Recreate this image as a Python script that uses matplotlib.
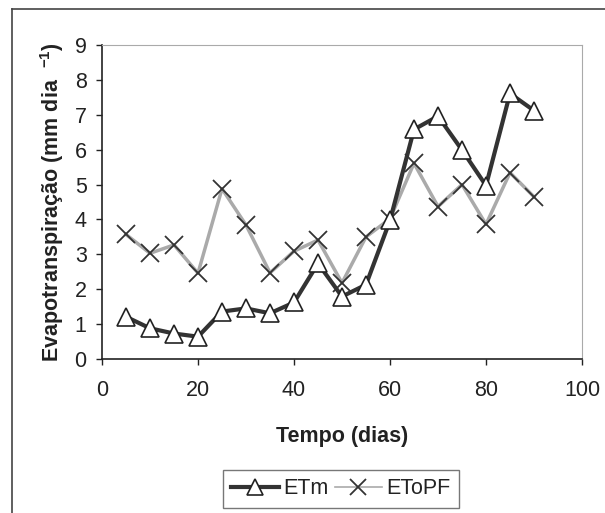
import matplotlib
matplotlib.use("Agg")
import matplotlib.pyplot as plt
from matplotlib.lines import Line2D

plt.rcParams['font.family'] = ['Liberation Sans', 'DejaVu Sans']
plt.rcParams['mathtext.default'] = 'regular'

dias = [5, 10, 15, 20, 25, 30, 35, 40, 45, 50, 55, 60, 65, 70, 75, 80, 85, 90]
etm = [1.21, 0.88, 0.73, 0.64, 1.36, 1.45, 1.31, 1.62, 2.74, 1.79, 2.13, 3.97, 6.58, 6.96, 5.99, 4.97, 7.61, 7.12]
etopf = [3.57, 3.03, 3.27, 2.46, 4.88, 3.84, 2.47, 3.09, 3.41, 2.18, 3.5, 4.02, 5.61, 4.37, 5.0, 3.86, 5.34, 4.65]
xticks = [0, 20, 40, 60, 80, 100]
yticks = list(range(0, 10))

fig = plt.figure(figsize=(6.05, 5.13), dpi=100)
ax = fig.add_axes([102/605, 1-359/513, 480/605, 314/513])

ax.plot(dias, etm, color='#333333', lw=3, marker='^', ms=13, mfc='white',
        mec='#222222', mew=1.2, label='ETm', zorder=3)
ax.plot(dias, etopf, color='#aaaaaa', lw=2.5, marker='x', ms=13,
        mec='#333333', mew=1.3, label='EToPF', zorder=2)

ax.set_xlim(0, 100)
ax.set_ylim(0, 9)
ax.set_xticks(xticks)
ax.set_yticks(yticks)
ax.tick_params(direction='out', length=4, width=1, labelsize=15.5, colors='#222222')
ax.tick_params(axis='x', pad=11)
ax.tick_params(axis='y', pad=7)
for s in ['top', 'right']:
    ax.spines[s].set_color('#aaaaaa')
    ax.spines[s].set_linewidth(0.8)
for s in ['left', 'bottom']:
    ax.spines[s].set_color('#222222')
    ax.spines[s].set_linewidth(1.2)

ax.set_xlabel('Tempo (dias)', fontsize=15.5, fontweight='bold', labelpad=18, color='#222222')
ax.set_ylabel('Evapotranspiração (mm dia  $^{-1}$)', fontsize=15.5, fontweight='bold',
              labelpad=6, color='#222222')

leg = fig.legend(loc='center', bbox_to_anchor=(341/605, 1-489/513), ncol=2,
                 fontsize=15.5, frameon=True, fancybox=False, edgecolor='#555555',
                 handlelength=2.2, columnspacing=0.3, handletextpad=0.2,
                 borderpad=0.4, markerscale=0.85)
leg.get_frame().set_linewidth(1.0)
for t in leg.get_texts():
    t.set_color('#222222')
leg.get_lines()[1].set_linewidth(1.2) if hasattr(leg, 'get_lines') else None

# outer chart frame
fig.add_artist(Line2D([12/605, 12/605], [0, 1-9/513], color='#444444', lw=1.2, transform=fig.transFigure))
fig.add_artist(Line2D([12/605, 1], [1-9/513, 1-9/513], color='#444444', lw=1.2, transform=fig.transFigure))

fig.savefig('out.png', dpi=100)
